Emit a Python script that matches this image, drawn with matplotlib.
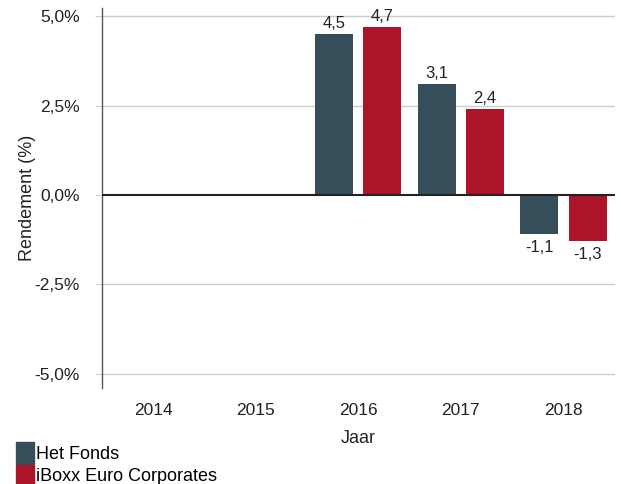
import numpy as np
import matplotlib
from matplotlib import pyplot as plt
from matplotlib.patches import Patch
plt.switch_backend('agg')

plt.rcParams['font.family'] = ['Liberation Sans', 'DejaVu Sans']

years = ['2014', '2015', '2016', '2017', '2018']
fonds = [np.nan, np.nan, 4.5, 3.1, -1.1]
iboxx = [np.nan, np.nan, 4.7, 2.4, -1.3]
series_names = ['Het Fonds', 'iBoxx Euro Corporates']
colors = ['#364d5a', '#ae1429']

fig = plt.figure(figsize=(6.21, 4.84), dpi=100)
ax = fig.add_axes([0.164, 0.198, 0.826, 0.785])

x = np.arange(len(years))
w = 0.37
off = 0.235
for vals, dx, c in [(fonds, -off, colors[0]), (iboxx, off, colors[1])]:
    bars = ax.bar(x + dx, vals, width=w, color=c, zorder=3)
    for xi, v in zip(x, vals):
        if np.isnan(v):
            continue
        lab = ('%.1f' % v).replace('.', ',')
        if v >= 0:
            ax.text(xi + dx, v + 0.08, lab, ha='center', va='bottom', fontsize=12, color='#222222')
        else:
            ax.text(xi + dx, v - 0.15, lab, ha='center', va='top', fontsize=12, color='#222222')

ax.set_xlim(-0.5, 4.5)
ax.set_ylim(-5.4, 5.22)
yt = [-5, -2.5, 0, 2.5, 5]
ax.set_yticks(yt)
ax.set_yticklabels([('%.1f%%' % t).replace('.', ',') for t in yt])
ax.set_xticks(x)
ax.set_xticklabels(years)
ax.tick_params(axis='x', length=0, pad=11, labelsize=12.5, colors='#222222')
ax.tick_params(axis='y', length=5, width=0.8, color='#cccccc', pad=11, labelsize=12.5, labelcolor='#222222')
for t in yt:
    if t != 0:
        ax.axhline(t, color='#cccccc', lw=1, zorder=1)
ax.axhline(0, color='#222222', lw=1.5, zorder=4)

for s in ['top', 'right', 'bottom']:
    ax.spines[s].set_visible(False)
ax.spines['left'].set_color('#555555')
ax.spines['left'].set_linewidth(1)

ax.set_ylabel('Rendement (%)', fontsize=13, color='#222222')
ax.yaxis.set_label_coords(-0.128, 0.5)
ax.set_xlabel('Jaar', fontsize=13, color='#222222', labelpad=8)

handles = [Patch(color=c) for c in colors]
fig.legend(handles, series_names, loc='lower left', bbox_to_anchor=(0.023, -0.008),
           frameon=False, fontsize=13, handlelength=1.0, handleheight=1.45,
           handletextpad=0.12, labelspacing=0.05, borderpad=0.1, borderaxespad=0.0)

plt.savefig('out.png', dpi=100)
